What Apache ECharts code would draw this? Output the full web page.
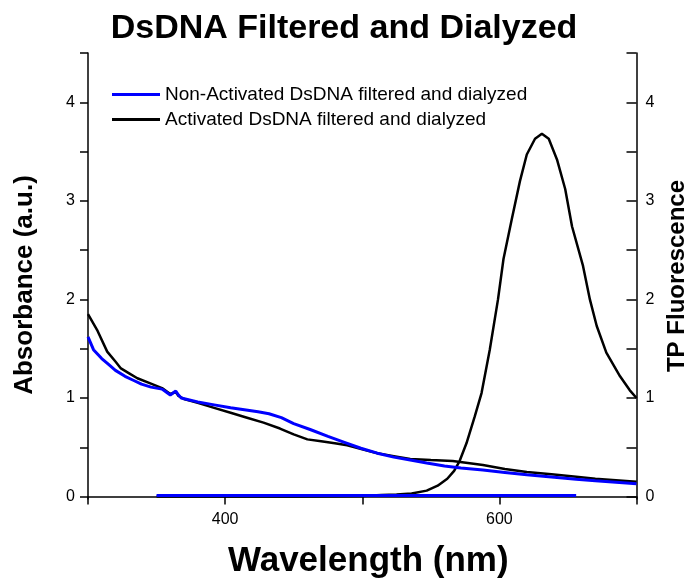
<!DOCTYPE html>
<html>
<head>
<meta charset="utf-8">
<script src="https://cdn.jsdelivr.net/npm/echarts@6/dist/echarts.min.js"></script>
<style>
  html, body { margin: 0; padding: 0; background: #fff; }
  #chart { width: 688px; height: 580px; }
</style>
</head>
<body>
<div id="chart"></div>
<script>
// Absorbance of non-activated DsDNA (left axis)
const nonActAbsWl  = [300, 304, 310, 315, 320, 327, 333, 339, 346, 354, 357, 360, 362, 364, 366, 368, 374, 380, 392, 404, 414, 424, 432, 441, 450, 462, 475, 487, 499, 511, 523, 535, 547, 560, 572, 588, 604, 620, 640, 656, 670, 685, 700];
const nonActAbsVal = [1.62, 1.49, 1.40, 1.34, 1.28, 1.22, 1.18, 1.14, 1.11, 1.09, 1.06, 1.03, 1.05, 1.07, 1.03, 1.00, 0.98, 0.96, 0.93, 0.90, 0.88, 0.86, 0.84, 0.80, 0.74, 0.68, 0.61, 0.55, 0.49, 0.44, 0.40, 0.37, 0.34, 0.31, 0.29, 0.27, 0.245, 0.22, 0.195, 0.175, 0.16, 0.145, 0.13];

// Absorbance of activated DsDNA (left axis)
const actAbsWl  = [300, 307, 314, 320, 324, 330, 336, 345, 354, 358, 360, 362, 364, 366, 370, 380, 392, 404, 416, 428, 440, 450, 460, 470, 480, 489, 500, 511, 523, 535, 550, 566, 577, 588, 604, 620, 638, 656, 670, 685, 700];
const actAbsVal = [1.85, 1.68, 1.47, 1.37, 1.30, 1.25, 1.20, 1.15, 1.10, 1.06, 1.04, 1.05, 1.06, 1.02, 0.99, 0.95, 0.90, 0.85, 0.80, 0.75, 0.69, 0.63, 0.58, 0.56, 0.54, 0.52, 0.48, 0.44, 0.41, 0.38, 0.37, 0.36, 0.34, 0.32, 0.28, 0.25, 0.225, 0.20, 0.18, 0.165, 0.15];

// TP fluorescence of non-activated DsDNA (right axis)
const nonActFlWl  = [350, 400, 450, 500, 550, 600, 656];
const nonActFlVal = [0.01, 0.01, 0.01, 0.01, 0.01, 0.01, 0.01];

// TP fluorescence of activated DsDNA (right axis)
const actFlWl  = [350, 400, 450, 480, 500, 514, 525, 536, 547, 555, 562, 567, 571, 576, 582, 587, 593, 599, 603, 609, 615, 620, 626, 631, 636, 642, 648, 653, 661, 666, 671, 678, 688, 695, 700];
const actFlVal = [0.0, 0.0, 0.0, 0.003, 0.006, 0.015, 0.02, 0.03, 0.06, 0.11, 0.18, 0.26, 0.36, 0.54, 0.81, 1.05, 1.49, 2.0, 2.41, 2.81, 3.2, 3.47, 3.63, 3.68, 3.63, 3.42, 3.12, 2.74, 2.34, 2.0, 1.73, 1.46, 1.22, 1.08, 1.0];

// Axis ticks and labels
const xTickLabels = [400, 600];
const yTicks = [0, 0.5, 1, 1.5, 2, 2.5, 3, 3.5, 4, 4.5];
const yTickLabels = [0, 1, 2, 3, 4];

const NAME_NON = 'Non-Activated DsDNA filtered and dialyzed';
const NAME_ACT = 'Activated DsDNA filtered and dialyzed';
const BLUE = '#0000ff';
const BLACK = '#000000';
const FONT = '"Liberation Sans", Arial, Helvetica, sans-serif';

const pairs = (xs, ys) => xs.map((x, i) => [x, ys[i]]);

const axisLine = { show: true, lineStyle: { color: '#000', width: 1.5 } };

function yAxisDef(pos, name) {
  const left = pos === 'left';
  return {
    type: 'value',
    position: pos,
    min: -0.025,
    max: 4.5,
    name: name,
    nameLocation: 'middle',
    nameRotate: 90,
    nameGap: left ? 50 : 28,
    nameTextStyle: {
      fontFamily: FONT, fontWeight: 'bold', fontSize: left ? 26 : 24, color: '#000',
      padding: left ? [0, 18, 0, 0] : [0, 0, 0, 0]
    },
    axisLine: axisLine,
    axisTick: { show: true, inside: !left, length: left ? 8 : 10, customValues: yTicks, lineStyle: { color: '#000', width: 1.5 } },
    axisLabel: { show: true, customValues: yTickLabels, fontFamily: FONT, fontSize: 16, color: '#000', margin: left ? 13 : 9 },
    splitLine: { show: false }
  };
}

const chart = echarts.init(document.getElementById('chart'), null, { renderer: 'canvas' });
chart.setOption({
  backgroundColor: '#fff',
  animation: false,
  title: {
    text: 'DsDNA Filtered and Dialyzed',
    left: 'center',
    top: 7,
    textStyle: { fontFamily: FONT, fontWeight: 'bold', fontSize: 34, color: '#000' }
  },
  legend: {
    orient: 'vertical',
    left: 107,
    top: 80,
    icon: 'rect',
    itemWidth: 48,
    itemHeight: 3,
    itemGap: 6,
    data: [NAME_NON, NAME_ACT],
    textStyle: { fontFamily: FONT, fontSize: 19, color: '#000' }
  },
  grid: { left: 88, right: 51.5, top: 53, bottom: 81, containLabel: false, outerBoundsMode: 'none' },
  xAxis: {
    type: 'value',
    min: 300,
    max: 700,
    interval: 100,
    name: 'Wavelength (nm)',
    nameLocation: 'middle',
    nameGap: 45,
    nameTextStyle: { fontFamily: FONT, fontWeight: 'bold', fontSize: 35, color: '#000', padding: [0, 0, 0, 12] },
    axisLine: axisLine,
    axisTick: { show: true, length: 8, lineStyle: { color: '#000', width: 1.5 } },
    axisLabel: { customValues: xTickLabels, fontFamily: FONT, fontSize: 16, color: '#000', margin: 13 },
    splitLine: { show: false }
  },
  yAxis: [yAxisDef('left', 'Absorbance (a.u.)'), yAxisDef('right', 'TP Fluorescence')],
  series: [
    {
      name: NAME_ACT, type: 'line', yAxisIndex: 0, symbol: 'none',
      data: pairs(actAbsWl, actAbsVal),
      lineStyle: { color: BLACK, width: 2.5 }, itemStyle: { color: BLACK }
    },
    {
      name: NAME_ACT, type: 'line', yAxisIndex: 1, symbol: 'none',
      data: pairs(actFlWl, actFlVal),
      lineStyle: { color: BLACK, width: 2.5 }, itemStyle: { color: BLACK }
    },
    {
      name: NAME_NON, type: 'line', yAxisIndex: 0, symbol: 'none',
      data: pairs(nonActAbsWl, nonActAbsVal),
      lineStyle: { color: BLUE, width: 3 }, itemStyle: { color: BLUE }
    },
    {
      name: NAME_NON, type: 'line', yAxisIndex: 1, symbol: 'none',
      data: pairs(nonActFlWl, nonActFlVal),
      lineStyle: { color: BLUE, width: 3 }, itemStyle: { color: BLUE }
    }
  ]
});
</script>
</body>
</html>
